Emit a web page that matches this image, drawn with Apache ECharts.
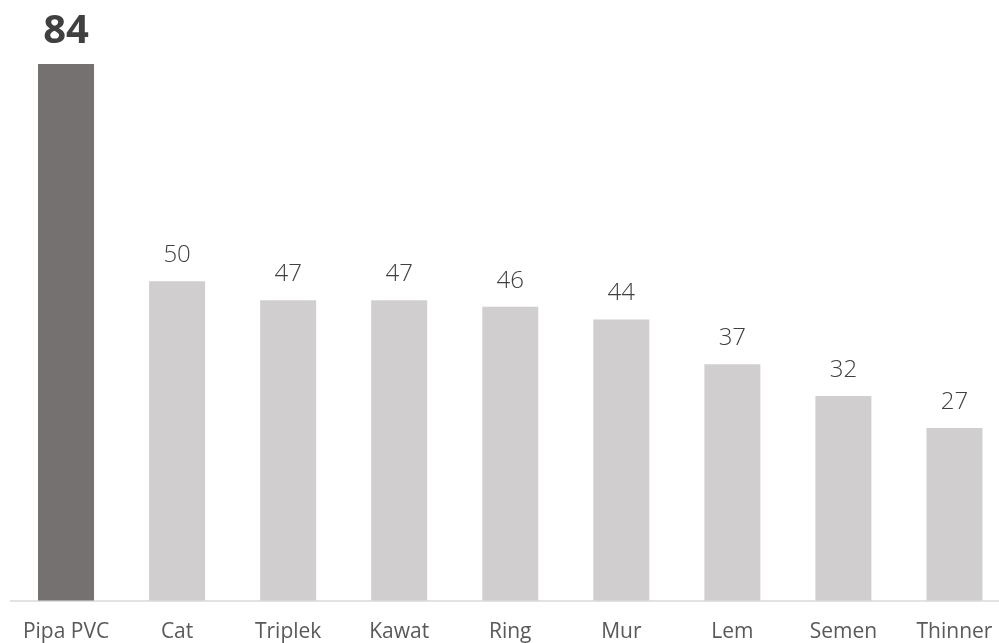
<!DOCTYPE html>
<html><head><meta charset="utf-8">
<script src="https://cdn.jsdelivr.net/npm/echarts@6/dist/echarts.min.js"></script>
<style>html,body{margin:0;padding:0;background:#fff;overflow:hidden;width:999px;height:643px}#c{width:1020px;height:643px}</style>
</head><body><div id="c"></div>
<script>
const categories = ["Pipa PVC","Cat","Triplek","Kawat","Ring","Mur","Lem","Semen","Thinner"];
const values = [84,50,47,47,46,44,37,32,27];
const highlightIndex = 0;

const chart = echarts.init(document.getElementById('c'), null, {renderer:'canvas'});
chart.setOption({
  animation:false,
  grid:{left:10.5, top:64, width:999.5, bottom:42.5, containLabel:false},
  xAxis:{type:'category', data:categories,
    axisLine:{lineStyle:{color:'#d9d9d9', width:1.5}},
    axisTick:{show:false},
    axisLabel:{color:'#595959', fontSize:21, fontFamily:'Open Sans', margin:21, interval:0}},
  yAxis:{type:'value', min:0, max:84, show:false, splitLine:{show:false}},
  series:[{type:'bar', barWidth:56,
    data: values.map((v,i)=>({value:v,
      itemStyle:{color: i===highlightIndex ? '#767171' : '#d0cece'},
      label: i===highlightIndex ? {fontSize:40, fontWeight:'bold', distance:12} : {}})),
    label:{show:true, position:'top', color:'#404040', fontSize:24, fontFamily:'Open Sans', fontWeight:300, distance:14}
  }]
});
</script></body></html>
